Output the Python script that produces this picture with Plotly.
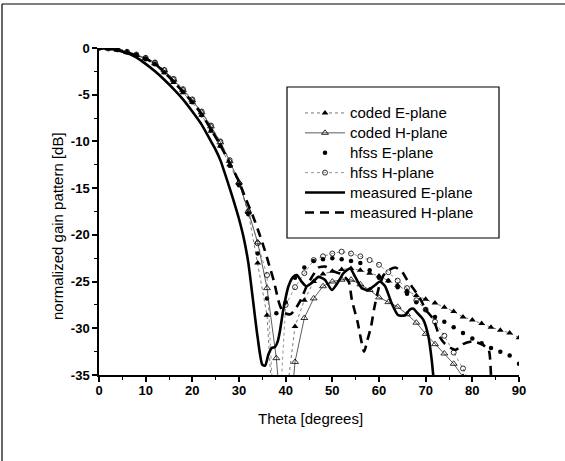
import plotly.graph_objects as go

# ---- data ----
theta_sim = list(range(0, 92, 2))

coded_E = [0, -0.05, -0.2, -0.45, -0.8, -1.15, -1.7, -2.65, -3.7, -4.8,
           -5.8, -7.2, -8.9, -10.5, -12.5, -14.5, -17.6, -23.0, -28.6, -45,
           -38, -29.8, -27.0, -25.0, -24.2, -23.9, -23.7, -23.6, -23.8, -24.1,
           -24.4, -24.9, -25.4, -26.0, -26.5, -26.9, -27.3, -27.75, -28.2, -28.8,
           -29.1, -29.5, -29.9, -30.2, -30.5, -31.0]

coded_H = [0, -0.05, -0.2, -0.45, -0.75, -1.1, -1.6, -2.4, -3.4, -4.5,
           -5.6, -6.9, -8.4, -10.1, -12.1, -14.4, -17.5, -20.8, -25.7, -33.2,
           -45, -33.6, -28.9, -26.8, -25.5, -25.0, -24.8, -24.8, -25.3, -25.9,
           -26.7, -27.2, -27.7, -28.5, -29.4, -30.6, -31.7, -32.7, -33.8, -35.2,
           None, None, None, None, None, None]

hfss_E = [0, -0.05, -0.2, -0.45, -0.8, -1.2, -1.75, -2.6, -3.6, -4.7,
          -5.8, -7.2, -8.8, -10.5, -12.6, -14.7, -17.8, -22.0, -26.8, -28.4,
          -27.2, -24.6, -23.5, -22.8, -22.6, -22.5, -22.6, -22.8, -23.0, -23.8,
          -24.6, -24.9, -25.6, -26.3, -27.2, -28.0, -28.8, -29.3, -29.9, -30.5,
          -31.1, -31.6, -32.1, -32.5, -32.9, -33.8]

hfss_H = [0, -0.05, -0.15, -0.4, -0.7, -1.05, -1.55, -2.35, -3.3, -4.4,
          -5.5, -6.8, -8.3, -10.0, -12.0, -14.5, -17.5, -20.9, -24.3, -45,
          -27.5, -25.6, -24.1, -22.7, -22.3, -22.0, -21.8, -22.0, -22.3, -22.7,
          -23.2, -24.0, -24.9, -25.7, -27.0, -28.0, -29.3, -30.8, -32.6, -34.3,
          -36.5, None, None, None, None, None]

theta_meas_E = [0, 2, 4, 6, 8, 10, 12, 14, 16, 18, 20, 22, 24, 25, 26, 28, 29, 30, 31, 32,
                33, 34, 35, 35.6, 36.3, 37, 37.7, 38.3, 38.8, 39.5, 40.6, 41.6, 42.4, 43.4,
                44.4, 45.9, 47, 48.4, 49.9, 51.3, 52.4, 53.8, 54.9, 56.3, 57.7, 59.1, 60.2,
                61.3, 62.7, 64.1, 65.6, 66.6, 67.4, 68.1, 69.5, 70.6, 71.3, 71.8]
meas_E = [0, -0.05, -0.25, -0.55, -1.0, -1.7, -2.5, -3.4, -4.4, -5.5, -6.8, -8.2, -10.0,
          -10.9, -12.0, -15.0, -16.6, -18.3, -20.3, -23.0, -27.0, -31.0, -33.9, -34.0,
          -32.8, -32.1, -32.0, -31.4, -30.2, -28.0, -25.5, -24.5, -24.3, -25.0, -25.5,
          -25.0, -24.5, -24.8, -25.9, -25.0, -24.1, -23.6, -24.5, -25.7, -25.9, -25.4,
          -25.0, -25.5, -27.3, -28.6, -28.6, -28.0, -27.9, -28.3, -29.1, -30.9, -33.4, -36.0]

theta_meas_H = [0, 2, 4, 6, 8, 10, 12, 14, 16, 18, 20, 22, 24, 26, 28, 30, 31.5, 33, 34.3,
                35.5, 36.5, 37.5, 38.6, 39.5, 41, 42, 43.3, 44.5, 46, 47, 48.5, 50.2, 52,
                53.5, 54.2, 55.4, 56.8, 57.5, 58.3, 59, 60, 61, 62, 63.5, 65, 66, 67, 68,
                69, 70, 71.6, 73, 74, 75, 76.5, 78, 80, 82, 83.5, 84, 84.3]
meas_H = [0, -0.05, -0.2, -0.45, -0.8, -1.15, -1.7, -2.6, -3.6, -4.7, -5.8, -7.1, -8.7,
          -10.4, -12.3, -14.3, -16.2, -18.0, -19.8, -21.6, -23.3, -25.0, -27.3, -28.3,
          -28.5, -28.0, -26.9, -25.5, -24.2, -23.5, -23.4, -23.9, -24.2, -25.0, -27.0,
          -29.3, -32.5, -31.3, -29.8, -27.8, -25.6, -24.3, -23.8, -23.5, -24.0, -24.8,
          -25.5, -26.2, -27.0, -28.0, -29.0, -30.9, -31.6, -32.0, -32.3, -31.7, -31.4,
          -31.7, -32.3, -35.0, -37.0]

x_ticks = [0, 10, 20, 30, 40, 50, 60, 70, 80, 90]
y_ticks = [0, -5, -10, -15, -20, -25, -30, -35]
series_names = ["coded E-plane", "coded H-plane", "hfss E-plane", "hfss H-plane",
                "measured E-plane", "measured H-plane"]

# ---- figure ----
W, H = 565, 461
L, R, T, B = 99, 519, 48, 375   # plot area in pixels


def px(x):
    return (x - L) / (R - L)


def py(y):
    return (B - y) / (B - T)


def lg(name):
    return '<span style="font-size:15px">' + name + '</span>'


FONT = "Liberation Sans, Arial, sans-serif"
fig = go.Figure()

fig.add_trace(go.Scatter(x=theta_sim, y=coded_E, name=lg(series_names[0]), mode="lines+markers",
                         line=dict(color="#555555", width=0.8, dash="dot"),
                         marker=dict(symbol="triangle-up", size=6, color="black")))
fig.add_trace(go.Scatter(x=theta_sim, y=coded_H, name=lg(series_names[1]), mode="lines+markers",
                         line=dict(color="#333333", width=0.8),
                         marker=dict(symbol="triangle-up-open", size=6, color="black",
                                     line=dict(width=0.8))))
fig.add_trace(go.Scatter(x=theta_sim, y=hfss_E, name=lg(series_names[2]), mode="markers",
                         marker=dict(symbol="circle", size=4.5, color="black")))
fig.add_trace(go.Scatter(x=theta_sim, y=hfss_H, name=lg(series_names[3]), mode="lines+markers",
                         line=dict(color="#666666", width=0.7, dash="dot"),
                         marker=dict(symbol="circle-open", size=5, color="black",
                                     line=dict(width=0.8))))
fig.add_trace(go.Scatter(x=theta_meas_E, y=meas_E, name=lg(series_names[4]), mode="lines",
                         line=dict(color="black", width=2.6, shape="spline", smoothing=0.6)))
fig.add_trace(go.Scatter(x=theta_meas_H, y=meas_H, name=lg(series_names[5]), mode="lines",
                         line=dict(color="black", width=2.6, dash="9px,6px",
                                   shape="spline", smoothing=0.6)))

axis_common = dict(showgrid=False, zeroline=False, showline=True, linecolor="black",
                   linewidth=1.5, ticks="outside", ticklen=5, tickwidth=1.5,
                   tickcolor="black",
                   tickfont=dict(family=FONT, size=13, color="black"))

fig.update_xaxes(range=[0, 90], tickvals=x_ticks,
                 ticktext=["<b>%d</b>" % v for v in x_ticks],
                 minor=dict(ticks="outside", ticklen=3, tickwidth=1.2,
                            tickcolor="black", dtick=5),
                 ticklabelstandoff=-2,
                 **axis_common)
fig.update_yaxes(range=[-35, 0], tickvals=y_ticks,
                 ticktext=["<b>%d</b>" % v for v in y_ticks],
                 minor=dict(ticks="outside", ticklen=3, tickwidth=1.2,
                            tickcolor="black", dtick=2.5),
                 **axis_common)

# outer frame (top and left edges of the scanned figure)
fig.add_shape(type="line", xref="paper", yref="paper",
              x0=px(2), y0=py(461), x1=px(2), y1=py(4), line=dict(color="black", width=1.2))
fig.add_shape(type="line", xref="paper", yref="paper",
              x0=px(2), y0=py(4), x1=px(565), y1=py(4), line=dict(color="black", width=1.2))
# legend box
fig.add_shape(type="rect", xref="paper", yref="paper",
              x0=px(287), y0=py(238), x1=px(499), y1=py(87),
              line=dict(color="black", width=1.2), fillcolor="white", layer="below")

fig.add_annotation(text="Theta [degrees]", xref="paper", yref="paper",
                   x=px(310), y=py(418), xanchor="center", yanchor="middle", showarrow=False,
                   font=dict(family=FONT, size=15, color="black"))
fig.add_annotation(text="normalized gain pattern [dB]", xref="paper", yref="paper",
                   x=px(57), y=py(226), xanchor="center", yanchor="middle",
                   showarrow=False, textangle=-90,
                   font=dict(family=FONT, size=15, color="black"))

fig.update_layout(
    width=W, height=H,
    margin=dict(l=L, r=W - R, t=T, b=H - B),
    paper_bgcolor="white", plot_bgcolor="rgba(0,0,0,0)",
    showlegend=True,
    legend=dict(x=px(300), y=py(98), xanchor="left", yanchor="top",
                bgcolor="rgba(0,0,0,0)", borderwidth=0,
                font=dict(family=FONT, size=13, color="black"),
                itemwidth=40, tracegroupgap=0),
)

fig.write_html("out.html")
